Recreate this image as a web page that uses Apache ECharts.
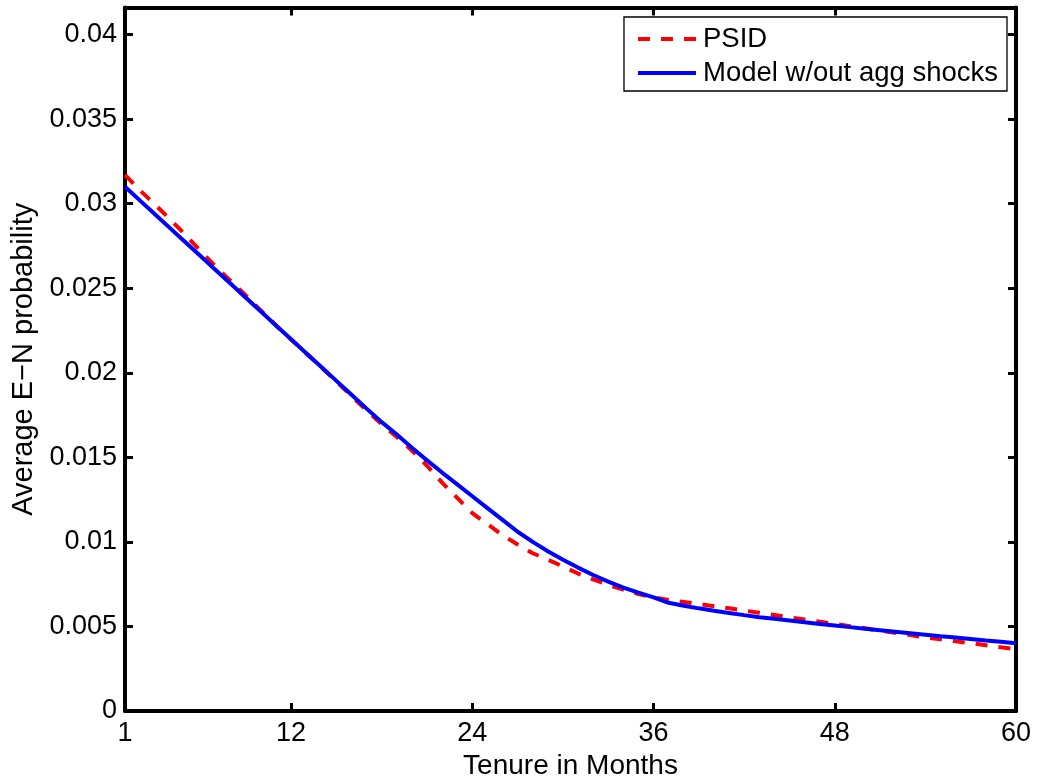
<!DOCTYPE html>
<html>
<head>
<meta charset="utf-8">
<script src="https://cdn.jsdelivr.net/npm/echarts@6/dist/echarts.min.js"></script>
<style>
html,body{margin:0;padding:0;background:#fff;}
#chart{width:1039px;height:782px;}
</style>
</head>
<body>
<div id="chart"></div>
<script>
var months = [1,2,3,4,5,6,7,8,9,10,11,12,13,14,15,16,17,18,19,20,
  21,22,23,24,25,26,27,28,29,30,31,32,33,34,35,36,37,38,39,40,
  41,42,43,44,45,46,47,48,49,50,51,52,53,54,55,56,57,58,59,60];

var psid = [0.0317,0.03078,0.02993,0.02906,0.02815,0.0272,0.02628,0.02543,0.02457,0.02368,
  0.0228,0.02196,0.02115,0.02032,0.01948,0.01862,0.01778,0.01695,0.0162,0.0154,
  0.0145,0.0135,0.0126,0.0117,0.01105,0.0104,0.00985,0.00933,0.00895,0.00855,
  0.00813,0.00778,0.00745,0.00718,0.00692,0.00671,0.00657,0.00645,0.00632,0.0062,
  0.00607,0.00594,0.00581,0.00568,0.00554,0.00541,0.00528,0.00515,0.00502,0.00489,
  0.00475,0.00462,0.00449,0.00435,0.00424,0.00412,0.00401,0.00389,0.00377,0.00366];

var model = [0.0310,0.03018,0.02936,0.02854,0.02772,0.0269,0.02608,0.02526,0.02444,0.02362,
  0.0228,0.02198,0.02116,0.02034,0.01952,0.0187,0.01788,0.01708,0.01635,0.01557,
  0.01482,0.0141,0.0134,0.0127,0.012,0.0113,0.0106,0.01,0.00945,0.00895,
  0.00848,0.00804,0.00765,0.0073,0.007,0.00672,0.0064,0.00622,0.00607,0.00593,
  0.0058,0.00567,0.00555,0.00545,0.00535,0.00525,0.00515,0.00506,0.00496,0.00487,
  0.00478,0.00469,0.0046,0.00451,0.00442,0.00434,0.00426,0.00417,0.00409,0.00401];

var xTicks = [1,12,24,36,48,60];
var yTicks = [0,0.005,0.01,0.015,0.02,0.025,0.03,0.035,0.04];
var yTickLabels = ['0','0.005','0.01','0.015','0.02','0.025','0.03','0.035','0.04'];

var seriesNames = ['PSID','Model w/out agg shocks'];

function pairs(xs, ys){ return xs.map(function(x,i){ return [x, ys[i]]; }); }

var FONT = '"Liberation Sans", Arial, Helvetica, sans-serif';
var FS = 27;

var chart = echarts.init(document.getElementById('chart'), null, {renderer:'canvas'});

function baseX(pos, show){
  return {
    type:'value', min:1, max:60, position:pos,
    axisLine:{show:true, onZero:false, lineStyle:{color:'#000', width:4}},
    axisTick:{show:true, inside:true, length:8, customValues:xTicks, lineStyle:{color:'#000', width:3}},
    axisLabel:{show:show, customValues:xTicks, margin:9, color:'#000', fontSize:FS, fontFamily:FONT},
    splitLine:{show:false}
  };
}
function baseY(pos, show){
  return {
    type:'value', min:0, max:0.0416, position:pos,
    axisLine:{show:true, onZero:false, lineStyle:{color:'#000', width:4}},
    axisTick:{show:true, inside:true, length:8, customValues:yTicks, lineStyle:{color:'#000', width:3}},
    axisLabel:{show:show, customValues:yTicks, margin:8, color:'#000', fontSize:FS, fontFamily:FONT,
      formatter:function(v){ var i = yTicks.indexOf(v); return i>=0 ? yTickLabels[i] : ''; }},
    splitLine:{show:false}
  };
}

var x0 = baseX('bottom', true);
x0.name = 'Tenure in Months';
x0.nameLocation = 'middle';
x0.nameGap = 38;
x0.nameTextStyle = {color:'#000', fontSize:28, fontFamily:FONT};
var x1 = baseX('top', false);

var y0 = baseY('left', true);
y0.name = 'Average E\u2212N probability';
y0.nameLocation = 'middle';
y0.nameGap = 85;
y0.nameTextStyle = {color:'#000', fontSize:29, fontFamily:FONT};
var y1 = baseY('right', false);

chart.setOption({
  animation:false,
  backgroundColor:'#fff',
  grid:{left:125, right:23, top:7.5, bottom:71, containLabel:false, outerBoundsMode:'none'},
  xAxis:[x0, x1],
  yAxis:[y0, y1],
  legend:{
    orient:'vertical', right:32, top:17,
    backgroundColor:'#fff', borderColor:'#000', borderWidth:1.3,
    padding:[7,9,3,12], itemGap:4, itemWidth:58, itemHeight:14,
    itemStyle:{opacity:0, color:'rgba(0,0,0,0)', borderWidth:0},
    lineStyle:{width:4},
    textStyle:{color:'#000', fontSize:27.5, fontFamily:FONT, lineHeight:30, padding:[0,0,0,2]},
    data:seriesNames
  },
  series:[
    {name:seriesNames[0], type:'line', xAxisIndex:0, yAxisIndex:0, data:pairs(months, psid),
      showSymbol:false, symbol:'none', smooth:false,
      lineStyle:{color:'#ff0000', width:4, type:[12,11]}, itemStyle:{color:'#ff0000'}},
    {name:seriesNames[1], type:'line', xAxisIndex:0, yAxisIndex:0, data:pairs(months, model),
      showSymbol:false, symbol:'none', smooth:false,
      lineStyle:{color:'#0000ff', width:4}, itemStyle:{color:'#0000ff'}}
  ]
});
</script>
</body>
</html>
